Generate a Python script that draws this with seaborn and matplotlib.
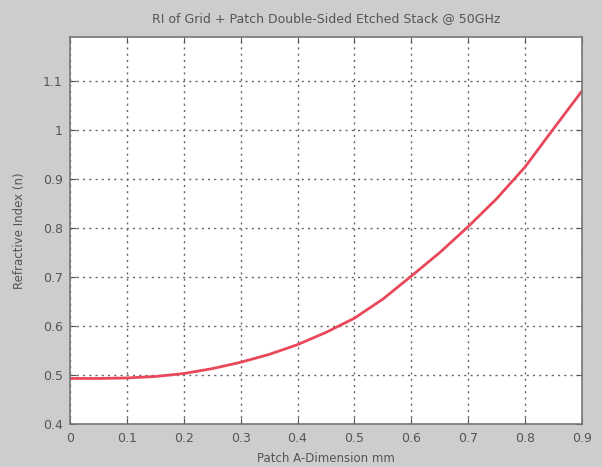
import matplotlib
matplotlib.use("Agg")
import matplotlib.pyplot as plt
import seaborn as sns
import pandas as pd

patch_a = [0.0, 0.05, 0.1, 0.15, 0.2, 0.25, 0.3, 0.35, 0.4, 0.45, 0.5,
           0.55, 0.6, 0.65, 0.7, 0.75, 0.8, 0.85, 0.9]
refr_index = [0.493, 0.493, 0.494, 0.497, 0.503, 0.513, 0.526, 0.542, 0.562,
              0.587, 0.616, 0.655, 0.702, 0.75, 0.803, 0.86, 0.925, 1.003, 1.08]
x_ticks = [0, 0.1, 0.2, 0.3, 0.4, 0.5, 0.6, 0.7, 0.8, 0.9]
x_labels = ["0", "0.1", "0.2", "0.3", "0.4", "0.5", "0.6", "0.7", "0.8", "0.9"]
y_ticks = [0.4, 0.5, 0.6, 0.7, 0.8, 0.9, 1.0, 1.1]
y_labels = ["0.4", "0.5", "0.6", "0.7", "0.8", "0.9", "1", "1.1"]

df = pd.DataFrame({"a": patch_a, "n": refr_index})

sns.set_style("white")
plt.rcParams['font.family'] = ['DejaVu Sans']

fig = plt.figure(figsize=(6.02, 4.67), dpi=100, facecolor="#cdcdcd")
ax = fig.add_axes([0.116, 0.092, 0.851, 0.829])
ax.set_facecolor("white")

sns.lineplot(data=df, x="a", y="n", ax=ax, color="#e8485a", linewidth=2.0)

ax.set_xlim(0, 0.9)
ax.set_ylim(0.4, 1.19)
ax.set_xticks(x_ticks)
ax.set_xticklabels(x_labels)
ax.set_yticks(y_ticks)
ax.set_yticklabels(y_labels)
ax.grid(True, linestyle=(0, (1.5, 3)), color="#666666", linewidth=1.0)
ax.tick_params(direction="in", length=4, color="#555555", labelcolor="#555555",
               labelsize=9, top=True, right=True, bottom=True, left=True)
ax.tick_params(axis="x", pad=6)
ax.tick_params(axis="y", pad=5)
for s in ax.spines.values():
    s.set_color("#777777")
    s.set_linewidth(1.2)

ax.set_xlabel("Patch A-Dimension mm", fontsize=8.5, color="#555555", labelpad=5)
ax.set_ylabel("Refractive Index (n)", fontsize=8.5, color="#555555", labelpad=12)
ax.set_title("RI of Grid + Patch Double-Sided Etched Stack @ 50GHz",
             fontsize=9, color="#555555", pad=11)

fig.savefig("out.png", dpi=100, facecolor=fig.get_facecolor())
